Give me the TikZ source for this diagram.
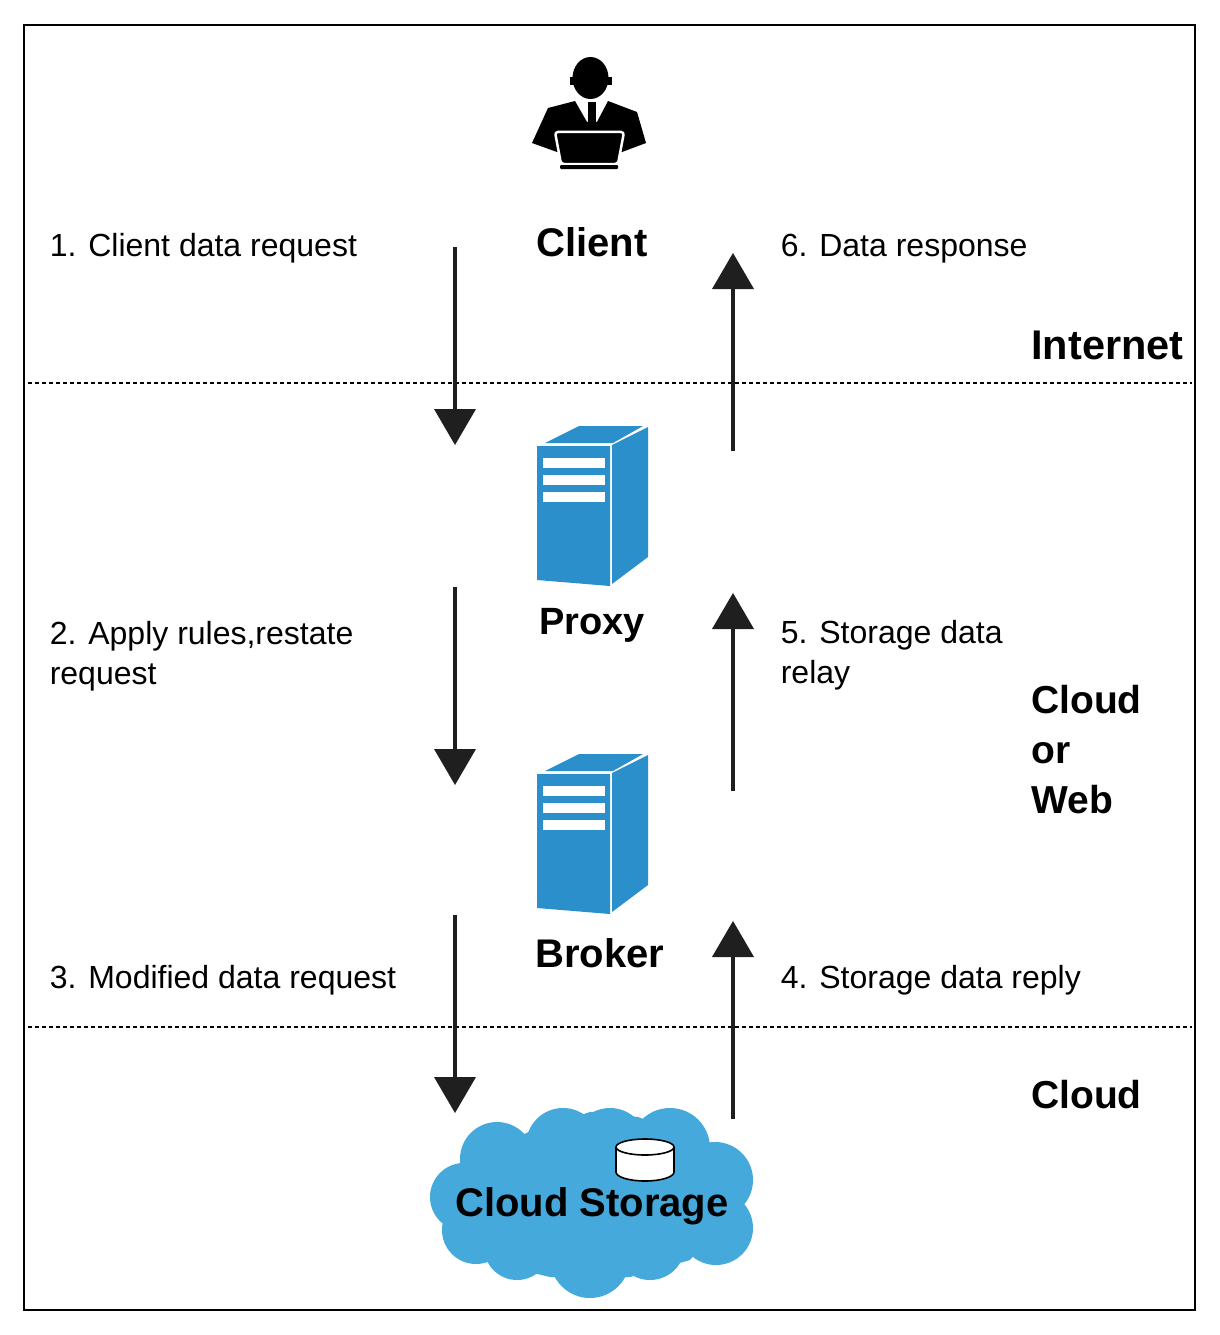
\documentclass[tikz,border=0pt]{standalone}
\usepackage{fontspec}
\setmainfont{Liberation Sans}
\usetikzlibrary{arrows.meta}
\usetikzlibrary{positioning}
\definecolor{towerblue}{HTML}{2B8FCB}
\definecolor{cloudblue}{HTML}{45A9DC}
\tikzset{
	pics/tower/.style={code={
		\fill[towerblue] (537,446) -- (610,446) -- (610,586) -- (537,580) -- cycle;
		\fill[towerblue] (545,443) -- (579,426) -- (643,426) -- (613,443) -- cycle;
		\fill[towerblue] (612,445) -- (648,427) -- (648,557) -- (612,584) -- cycle;
		\foreach \slot in {458,475,492}
			\fill[white] (543,\slot) rectangle +(62,10);
	}}
}
\begin{document}
\begin{tikzpicture}[x=1pt,y=-1pt,>={Triangle[width=42pt,length=36pt,line width=0pt]},semithick]
	\tikzstyle{step text}=[inner sep=0pt,anchor=base west,align=left,font=\fontsize{32}{40}\selectfont]
	\tikzstyle{zone}=[inner sep=0pt,anchor=base west,align=left,font=\fontsize{39}{50}\selectfont\bfseries]
	\tikzstyle{title}=[inner sep=0pt,anchor=base,font=\fontsize{40}{50}\selectfont\bfseries]
	\tikzstyle{flow}=[->,line width=4pt,color=black!88]
	\tikzstyle{divider}=[line width=1.8pt,dash pattern=on 4pt off 3pt]
	\useasboundingbox (0,0) rectangle (1219,1335);
	\fill[white] (0,0) rectangle (1219,1335);
	\draw[line width=2.2pt] (24,25) rectangle (1195,1310);

	% client figure
	\fill (575,101) -- (548,108) -- (532,143) -- (557,152) -- (622,152) -- (646,143) -- (637,112) -- (608,101) -- (597,122) -- (587,122) -- cycle;
	\fill (587.5,102) rectangle (596,122);
	\fill (590.5,78) ellipse [x radius=18,y radius=21];
	\fill (570,77) rectangle (612,85);
	\draw[white,line width=2.5pt,fill=black,rounded corners=3pt] (555,132) -- (624,132) -- (618,164) -- (561,164) -- cycle;
	\fill[rounded corners=1pt] (560,165) rectangle (618,169);

	% servers
	\pic (proxy) at (0,0) {tower};
	\pic (broker) at (0,328) {tower};

	% cloud
	\fill[cloudblue] (497,1159) circle (37) (563,1145) circle (37) (610,1145) circle (37) (670,1148) circle (40)
		(715,1180) circle (38) (716,1228) circle (37) (650,1245) circle (35) (590,1258) circle (40)
		(517,1247) circle (33) (476,1230) circle (34) (464,1197) circle (34);
	\fill[cloudblue] (458,1164) -- (533,1130) -- (590,1112) -- (638,1117) -- (710,1143) -- (738,1203) -- (690,1260) -- (630,1277) -- (550,1277) -- (492,1263) -- (442,1218) -- cycle;
	\draw[line width=1.6pt,fill=white] (616,1147) -- (616,1172) arc [start angle=180,end angle=0,x radius=29,y radius=9] -- (674,1147);
	\draw[line width=1.6pt,fill=white] (645,1147) ellipse [x radius=29,y radius=8];

	% labels
	\node[title] (client) at (592,256) {Client};
	\node[title,font=\fontsize{38}{50}\selectfont\bfseries] (proxylabel) at (592,634) {Proxy};
	\node[title] (brokerlabel) at (600,967) {Broker};
	\node[title] (storage) at (592,1216) {Cloud Storage};

	\node[step text] (s1) at (49.5,256) {1. Client data request};
	\node[step text] (s2) at (49.5,684) {2. Apply rules,restate\\request};
	\node[step text] (s3) at (49.5,988) {3. Modified data request};
	\node[step text] (s4) at (780.5,988) {4. Storage data reply};
	\node[step text] (s5) at (780.5,683) {5. Storage data\\relay};
	\node[step text] (s6) at (780.5,256) {6. Data response};

	\node[zone,font=\fontsize{41.5}{50}\selectfont\bfseries] (internet) at (1031,359) {Internet};
	\node[zone] (cow) at (1031,813) {Cloud\\or\\Web};
	\node[zone] (cloud) at (1031,1108) {Cloud};

	% dividers
	\coordinate (d1a) at (28,383);
	\coordinate (d1b) at (1192,383);
	\coordinate (d2a) at (28,1027);
	\coordinate (d2b) at (1192,1027);
	\path (d1a) edge[divider] (d1b) (d2a) edge[divider] (d2b);

	% request and response flows
	\coordinate (r1a) at (455,247);
	\coordinate (r1b) at (455,445);
	\coordinate (r2a) at (455,587);
	\coordinate (r2b) at (455,785);
	\coordinate (r3a) at (455,915);
	\coordinate (r3b) at (455,1113);
	\coordinate (r4a) at (733,1119);
	\coordinate (r4b) at (733,921);
	\coordinate (r5a) at (733,791);
	\coordinate (r5b) at (733,593);
	\coordinate (r6a) at (733,451);
	\coordinate (r6b) at (733,253);
	\path
		(r1a) edge[flow] (r1b)
		(r2a) edge[flow] (r2b)
		(r3a) edge[flow] (r3b)
		(r4a) edge[flow] (r4b)
		(r5a) edge[flow] (r5b)
		(r6a) edge[flow] (r6b);
\end{tikzpicture}
\end{document}
